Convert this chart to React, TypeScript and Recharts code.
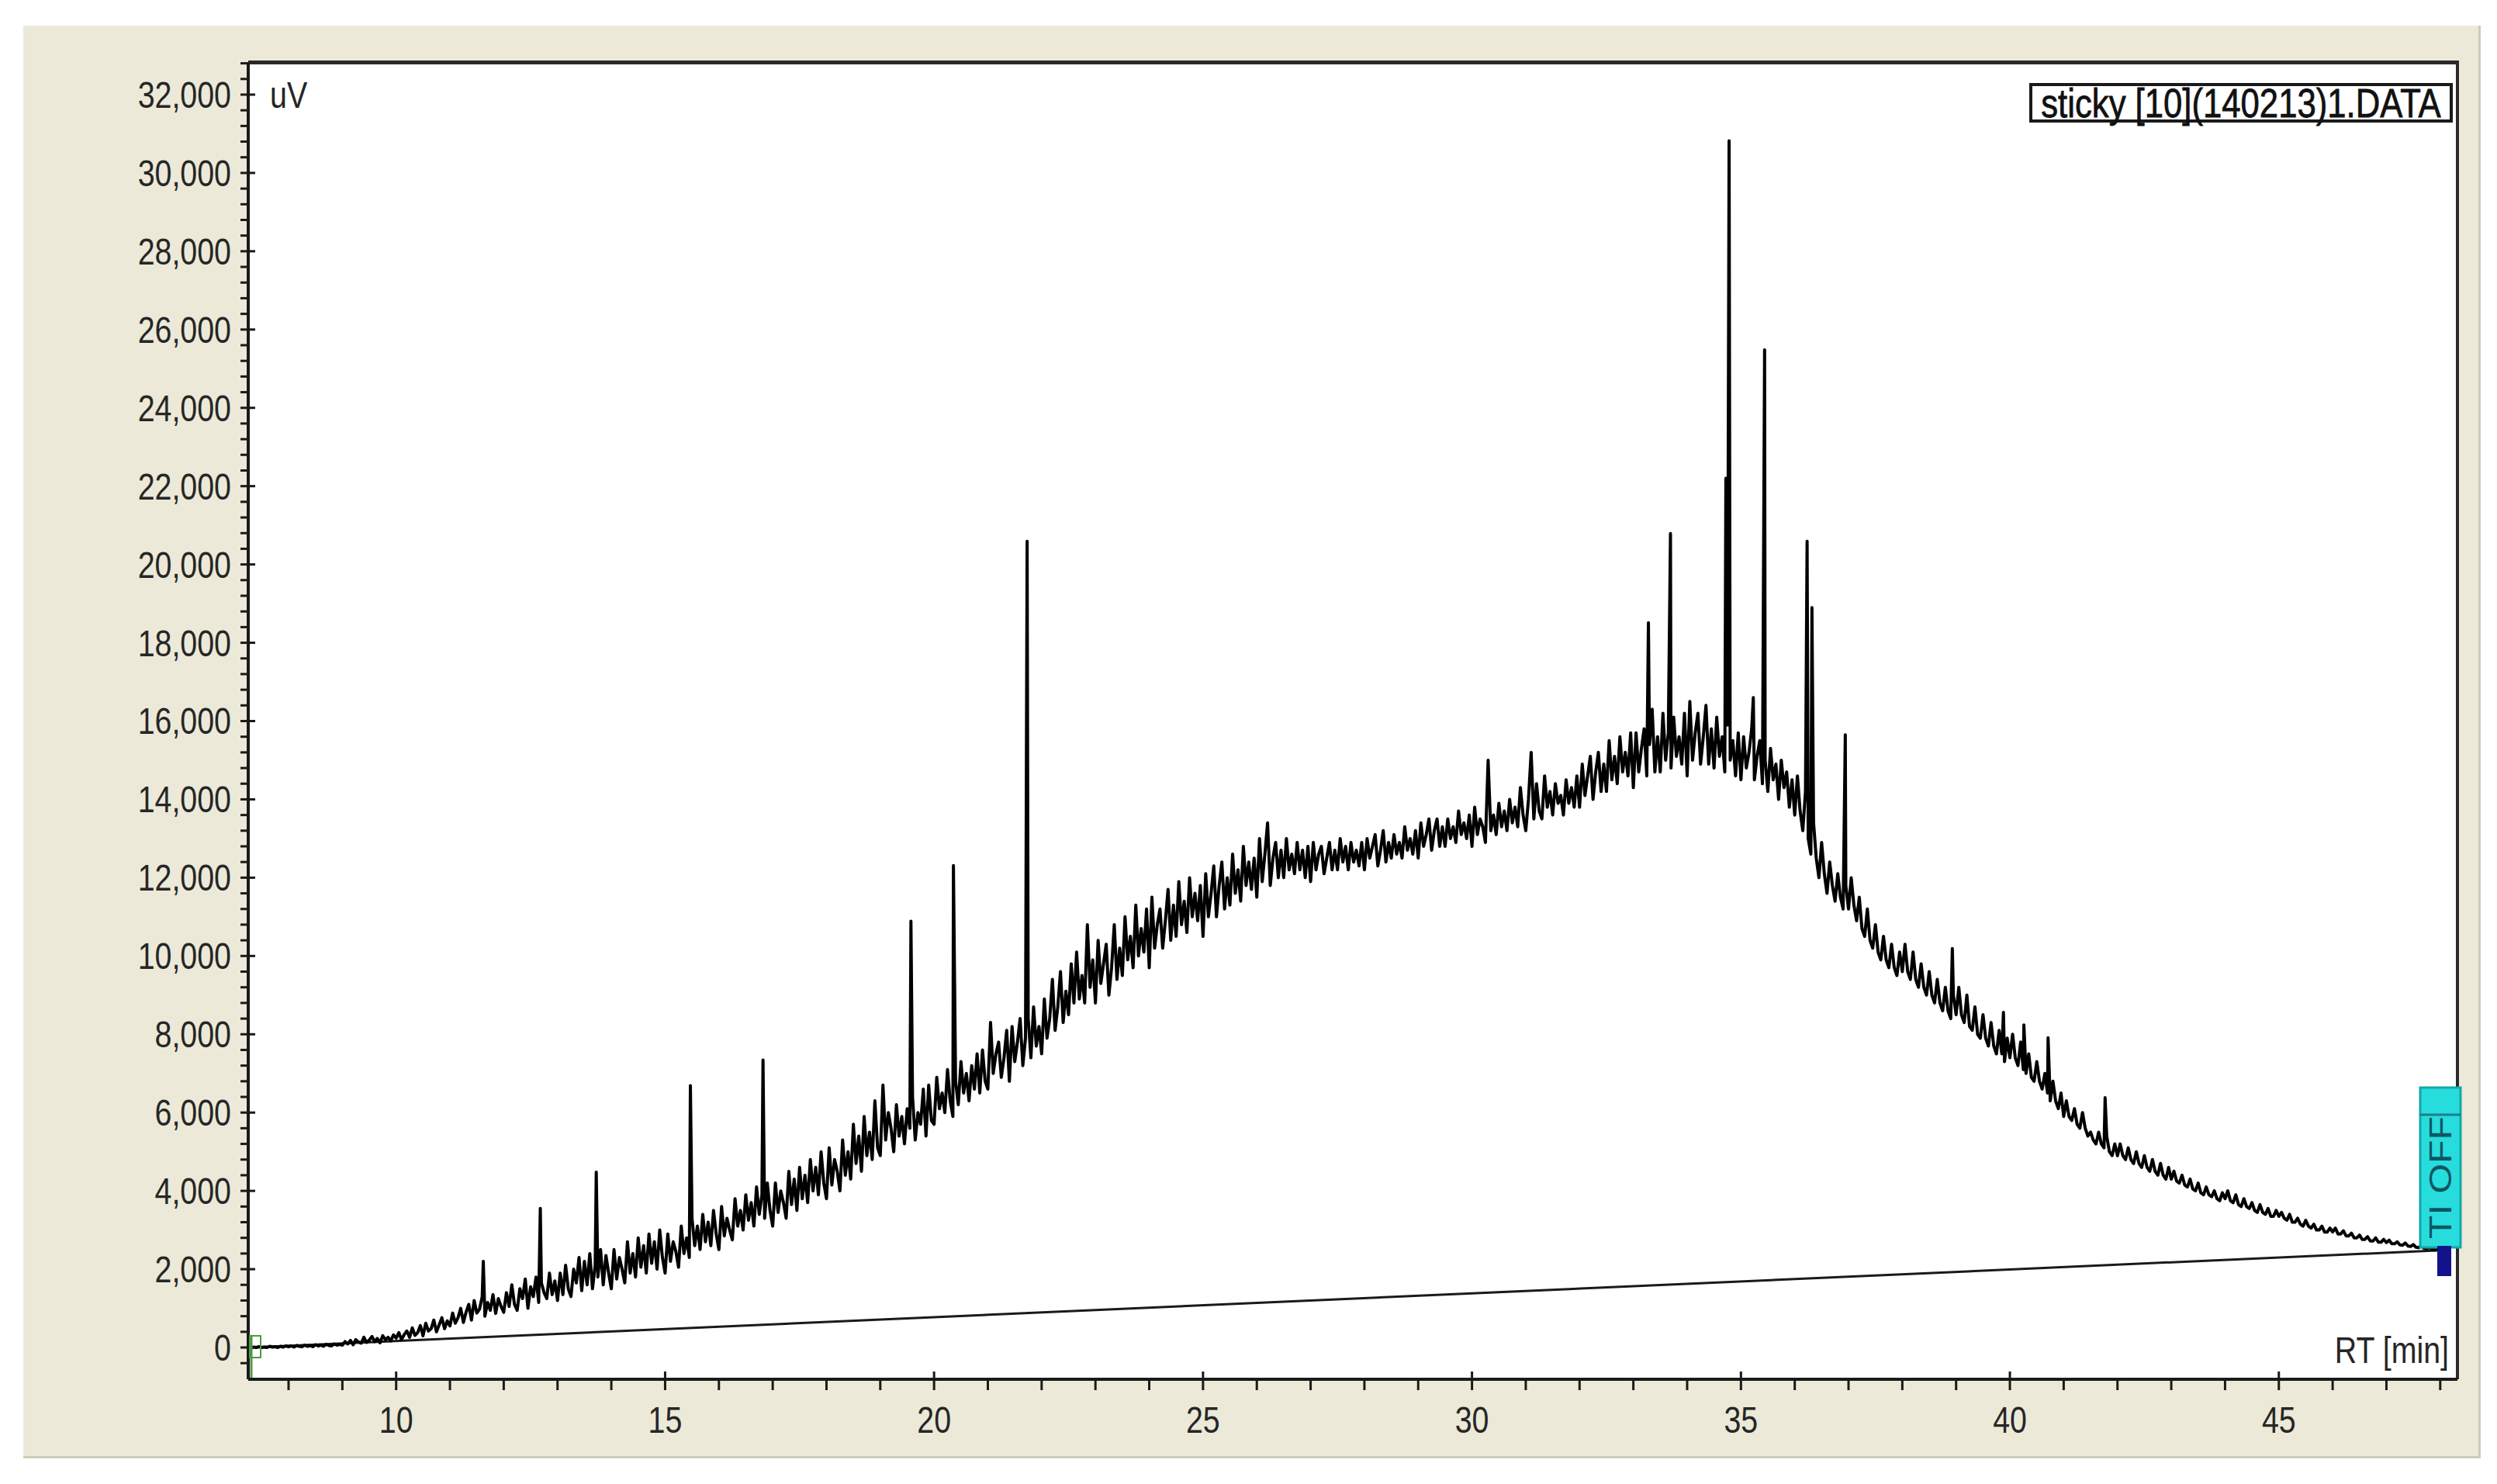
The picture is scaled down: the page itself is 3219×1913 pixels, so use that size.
import { LineChart, Line, XAxis, YAxis } from 'recharts';

// chromatogram read every 0.05 min; each row: [start RT in min, uV samples]
const sampleStepMin = 0.05;
const traceRows: [number, number[]][] = [
  [7.3, [0, 10, 0, 20, 0, 10, 0, 30, 10, 20, 0, 30, 10, 40]],
  [8, [20, 40, 10, 50, 30, 20, 60, 30, 50, 20, 70, 40, 60, 30, 80, 50, 40, 90, 60, 80]],
  [9, [60, 150, 90, 180, 70, 200, 140, 110, 260, 130, 190, 280, 150, 230, 120, 300, 200, 260, 170, 320]],
  [10, [240, 380, 200, 330, 420, 260, 500, 310, 380, 560, 300, 620, 420, 480, 700, 400, 580, 760, 480, 680]],
  [11, [550, 880, 620, 760, 1000, 640, 900, 1100, 700, 1200, 880, 980, 1300, 800, 1150, 950, 1350, 870, 1250, 1050]],
  [12, [900, 1400, 1050, 1600, 1100, 950, 1500, 1250, 1750, 1000, 1550, 1300, 1800, 1150, 1650, 1400, 1250, 1900, 1350, 1700]],
  [13, [1200, 1900, 1350, 2100, 1500, 1300, 2000, 1650, 2300, 1450, 2200, 1600, 2400, 1500, 2100, 1800, 2500, 1600, 2350, 1900]],
  [14, [1500, 2500, 1750, 2300, 2000, 1650, 2700, 1900, 2400, 1800, 2800, 2050, 2600, 1900, 2900, 2150, 2700, 2000, 3000, 2300]],
  [15, [1900, 2900, 2200, 2700, 2450, 2050, 3100, 2400, 2800, 2300, 3300, 2600, 3100, 2500, 3400, 2700, 3200, 2600, 3500, 2900]],
  [16, [2500, 3600, 2850, 3300, 3000, 2750, 3800, 3100, 3500, 3000, 3900, 3250, 3700, 3100, 4100, 3400, 3900, 3300, 4200, 3500]],
  [17, [3100, 4200, 3450, 4000, 3700, 3300, 4500, 3650, 4300, 3500, 4600, 3800, 4400, 3700, 4800, 4000, 4600, 3900, 5000, 4200]],
  [18, [3800, 5100, 4150, 4800, 4500, 4000, 5300, 4400, 5000, 4300, 5700, 4700, 5400, 4500, 5900, 4900, 5500, 4800, 6300, 5100]],
  [19, [4900, 6700, 5300, 6000, 5600, 5000, 6200, 5400, 5900, 5200, 6100, 5600, 6400, 5300, 6000, 5700, 6600, 5400, 6700, 5800]],
  [20, [5700, 6900, 6100, 6500, 6000, 7100, 6300, 5900, 6800, 6200, 7300, 6500, 7000, 6300, 7200, 6600, 7500, 6500, 7600, 6800]],
  [21, [6600, 8300, 7000, 7500, 7800, 6900, 7400, 8100, 6800, 8200, 7300, 7800, 8400, 7200, 7900, 8400, 7400, 8700, 7700, 8200]],
  [22, [7500, 8900, 7900, 8400, 9400, 8100, 8700, 9600, 8300, 9100, 8500, 9800, 8800, 10100, 8900, 9500, 8800, 10800, 9200, 9900]],
  [23, [8800, 10400, 9300, 9800, 10300, 9000, 9700, 10800, 9400, 10200, 9500, 11000, 9900, 10500, 9700, 11300, 10000, 10700, 10100, 11200]],
  [24, [9700, 11500, 10200, 10800, 11200, 10200, 10900, 11700, 10400, 11300, 10500, 11900, 10800, 11400, 10600, 12000, 11000, 11600, 10900, 11800]],
  [25, [10500, 12100, 11000, 11600, 12300, 11000, 11800, 12400, 11200, 12000, 11300, 12600, 11600, 12200, 11400, 12800, 11800, 12400, 11700, 12500]],
  [26, [11500, 13000, 11900, 12600, 13400, 11800, 12500, 12900, 12000, 12700, 12000, 13000, 12200, 12600, 12100, 12900, 12200, 12700, 12000, 12800]],
  [27, [11900, 12900, 12200, 12600, 12800, 12100, 12500, 12900, 12200, 12700, 12200, 13000, 12400, 12800, 12200, 12900, 12400, 12700, 12300, 12900]],
  [28, [12200, 13000, 12500, 12800, 13100, 12300, 12700, 13200, 12400, 12900, 12500, 13100, 12600, 12900, 12500, 13300, 12700, 13000, 12600, 13200]],
  [29, [12500, 13400, 12800, 13100, 13500, 12700, 13200, 13500, 12800, 13300, 12800, 13500, 13000, 13300, 12900, 13700, 13100, 13400, 13000, 13600]],
  [30, [12800, 13800, 13100, 13500, 13300, 12900, 15000, 13200, 13600, 13100, 13900, 13300, 13700, 13200, 14000, 13400, 13800, 13300, 14300, 13600]],
  [31, [13200, 14000, 15200, 13500, 14400, 13700, 13500, 14600, 13800, 14200, 13600, 14400, 13900, 14100, 13600, 14500, 13900, 14300, 13800, 14600]],
  [32, [13800, 14900, 14100, 14600, 15100, 14000, 14700, 15200, 14200, 14900, 14200, 15500, 14500, 15100, 14400, 15600, 14700, 15200, 14600, 15700]],
  [33, [14300, 15700, 14700, 15300, 15800, 14600, 15400, 16300, 14700, 15600, 14700, 16200, 15000, 15700, 14800, 16100, 15100, 15600, 14900, 16200]],
  [34, [14600, 16500, 15000, 15700, 16200, 14900, 15600, 16400, 14900, 15800, 14800, 16100, 15100, 15600, 14700, 15900, 15000, 15500, 14600, 15700]],
  [35, [14500, 15600, 14800, 15200, 15800, 14500, 15100, 15500, 14400, 15000, 14200, 15300, 14500, 14900, 14000, 15000, 14300, 14700, 13800, 14500]],
  [36, [13600, 14600, 13700, 13200, 14200, 13000, 12600, 13400, 12500, 12000, 12900, 12100, 11600, 12400, 11800, 11400, 12100, 11500, 11200, 11800]],
  [37, [11200, 12000, 11300, 10900, 11500, 10700, 10500, 11200, 10400, 10200, 10800, 10100, 9900, 10500, 9900, 9700, 10300, 9700, 9500, 10100]],
  [38, [9600, 10300, 9600, 9400, 10100, 9400, 9200, 9800, 9200, 9000, 9600, 9000, 8800, 9400, 8800, 8600, 9200, 8600, 8400, 9000]],
  [39, [8500, 9200, 8500, 8300, 9000, 8200, 8100, 8700, 8000, 7900, 8500, 7900, 7700, 8300, 7700, 7500, 8100, 7500, 7300, 7900]],
  [40, [7400, 8000, 7400, 7200, 7800, 7100, 7000, 7500, 6900, 6800, 7300, 6800, 6600, 7000, 6500, 6300, 6800, 6300, 6100, 6500]],
  [41, [5900, 6300, 5900, 5800, 6100, 5700, 5600, 6000, 5600, 5400, 5500, 5300, 5200, 5500, 5200, 5100, 5400, 5000, 4900, 5200]],
  [42, [4900, 5200, 4900, 4800, 5100, 4800, 4700, 5000, 4700, 4600, 4900, 4600, 4500, 4800, 4500, 4400, 4700, 4400, 4300, 4600]],
  [43, [4300, 4500, 4250, 4200, 4400, 4150, 4100, 4300, 4050, 4000, 4200, 3950, 3900, 4100, 3900, 3850, 4000, 3800, 3750, 3950]],
  [44, [3800, 4000, 3750, 3700, 3900, 3650, 3600, 3800, 3600, 3550, 3700, 3500, 3450, 3650, 3450, 3400, 3550, 3350, 3350, 3500]],
  [45, [3350, 3450, 3300, 3250, 3400, 3200, 3200, 3300, 3150, 3100, 3250, 3100, 3050, 3150, 3000, 3000, 3100, 2950, 2950, 3050]],
  [46, [2950, 3050, 2900, 2900, 2980, 2850, 2850, 2920, 2800, 2800, 2870, 2760, 2760, 2830, 2720, 2720, 2800, 2690, 2690, 2760]],
  [47, [2680, 2740, 2650, 2650, 2700, 2620, 2610, 2670, 2590, 2580, 2630, 2560, 2550, 2600, 2530, 2520, 2560, 2500, 2490, 2530]],
  [48, [2480, 2500, 2470]],
];

// sharp peaks between samples [rt, uV]
const peaks: [number, number][] = [
  [11.62, 2200], [12.68, 3550], [13.72, 4480], [15.47, 6690], [16.82, 7340],
  [19.57, 10890], [20.36, 12310], [21.73, 20590],
  [33.28, 18510], [33.69, 20790], [34.72, 22200], [34.78, 30820],
  [35.23, 16600], [35.44, 25480], [36.23, 20590], [36.32, 18900], [36.94, 15650],
  [38.93, 10190], [39.88, 8560], [40.26, 8240], [40.71, 7910], [41.77, 6380],
];

const baselineRt = [7.3, 48.0];
const baselineUv = [0, 2480];

const yMajorTicks = [0, 2000, 4000, 6000, 8000, 10000, 12000, 14000, 16000, 18000, 20000, 22000, 24000, 26000, 28000, 30000, 32000];
const xMajorTicks = [10, 15, 20, 25, 30, 35, 40, 45];
const yTicks = Array.from({ length: 84 }, (_, i) => -400 + i * 400);
const xTicks = Array.from({ length: 41 }, (_, i) => 8 + i);

const trace = [
  ...traceRows.flatMap(([start, values]) =>
    values.map((uv, j) => ({ rt: +(start + j * sampleStepMin).toFixed(2), uv }))
  ),
  ...peaks.map(([rt, uv]) => ({ rt, uv })),
].sort((a, b) => a.rt - b.rt);

const baseline = baselineRt.map((rt, i) => ({ rt, uv: baselineUv[i] }));

const FONT = '"Liberation Sans", Arial, sans-serif';
const INK = '#262626';

function YTick({ x, y, payload }: any) {
  const v = payload.value;
  const major = yMajorTicks.includes(v);
  return (
    <g>
      <line x1={x - 10} x2={major ? x + 9 : x} y1={y} y2={y} stroke="#1a1a1a" strokeWidth={3} />
      {major && (
        <text
          transform={`translate(${x - 22},${y}) scale(0.82,1)`}
          textAnchor="end"
          dominantBaseline="central"
          fontFamily={FONT}
          fontSize={48}
          fill={INK}
        >
          {v.toLocaleString('en-US')}
        </text>
      )}
    </g>
  );
}

function XTick({ x, y, payload }: any) {
  const v = payload.value;
  const major = xMajorTicks.includes(v);
  return (
    <g>
      <line x1={x} x2={x} y1={major ? y - 10 : y} y2={y + 14} stroke="#1a1a1a" strokeWidth={3} />
      {major && (
        <text
          transform={`translate(${x},${y + 52}) scale(0.82,1)`}
          textAnchor="middle"
          dominantBaseline="central"
          fontFamily={FONT}
          fontSize={48}
          fill={INK}
        >
          {v}
        </text>
      )}
    </g>
  );
}

export default function App() {
  return (
    <div style={{ position: 'absolute', left: 0, top: 0, width: 3219, height: 1913, background: '#fff' }}>
      {/* window panel + plot area */}
      <div style={{ position: 'absolute', left: 30, top: 33, width: 3168, height: 1847, background: '#ECE9D8', borderRight: '3px solid #cfcbb8', borderBottom: '3px solid #cfcbb8', boxSizing: 'border-box' }} />
      <div style={{ position: 'absolute', left: 320, top: 78, width: 2850, height: 1700, background: '#fff', borderTop: '5px solid #2a2a2a', borderRight: '4px solid #2a2a2a', boxSizing: 'border-box' }} />

      <div style={{ position: 'absolute', left: 0, top: 0 }}>
        <LineChart width={3219} height={1913} margin={{ top: 80, right: 51, bottom: 0, left: 0 }}>
          <XAxis
            type="number"
            dataKey="rt"
            domain={[7.25, 48.32]}
            allowDataOverflow
            ticks={xTicks}
            interval={0}
            height={135}
            tickSize={0}
            tickMargin={0}
            tickLine={false}
            axisLine={{ stroke: '#1a1a1a', strokeWidth: 4 }}
            tick={<XTick />}
          />
          <YAxis
            type="number"
            domain={[-812, 32832]}
            allowDataOverflow
            ticks={yTicks}
            interval={0}
            width={320}
            tickSize={0}
            tickMargin={0}
            tickLine={false}
            axisLine={{ stroke: '#1a1a1a', strokeWidth: 4 }}
            tick={<YTick />}
          />
          <Line
            data={baseline}
            dataKey="uv"
            type="linear"
            stroke="#1a1a1a"
            strokeWidth={3}
            dot={false}
            isAnimationActive={false}
          />
          <Line
            data={trace}
            dataKey="uv"
            type="linear"
            stroke="#000"
            strokeWidth={4}
            strokeLinejoin="round"
            dot={false}
            isAnimationActive={false}
          />
        </LineChart>
      </div>

      <svg width={3219} height={1913} style={{ position: 'absolute', left: 0, top: 0, pointerEvents: 'none' }}>
        <text transform="translate(348,122) scale(0.82,1)" dominantBaseline="central" fontFamily={FONT} fontSize={48} fill={INK}>
          uV
        </text>
        <text transform="translate(3157,1757) scale(0.82,1)" textAnchor="end" fontFamily={FONT} fontSize={48} fill={INK}>
          RT [min]
        </text>

        <rect x={2618} y={109} width={542} height={47} fill="#fff" stroke="#1a1a1a" strokeWidth={4} />
        <text transform="translate(2889,133) scale(0.84,1)" textAnchor="middle" dominantBaseline="central" fontFamily={FONT} fontSize={52} fill="#111" stroke="#111" strokeWidth={0.8}>
          sticky [10](140213)1.DATA
        </text>

        <rect x={3120} y={1402} width={52} height={206} fill="#27dcdc" stroke="#14a7a7" strokeWidth={3} />
        <line x1={3120} x2={3172} y1={1437} y2={1437} stroke="#1a7f8a" strokeWidth={3} />
        <text transform="translate(3146,1518) rotate(-90) scale(1.25,1)" textAnchor="middle" dominantBaseline="central" fontFamily={FONT} fontSize={40} fill="#0d5663">
          TI OFF
        </text>
        <rect x={3142} y={1606} width={18} height={39} fill="#12138c" />

        <rect x={322} y={1722} width={14} height={28} fill="none" stroke="#4d9a45" strokeWidth={2} />
        <line x1={324} x2={324} y1={1722} y2={1776} stroke="#4d9a45" strokeWidth={3} />
      </svg>
    </div>
  );
}
